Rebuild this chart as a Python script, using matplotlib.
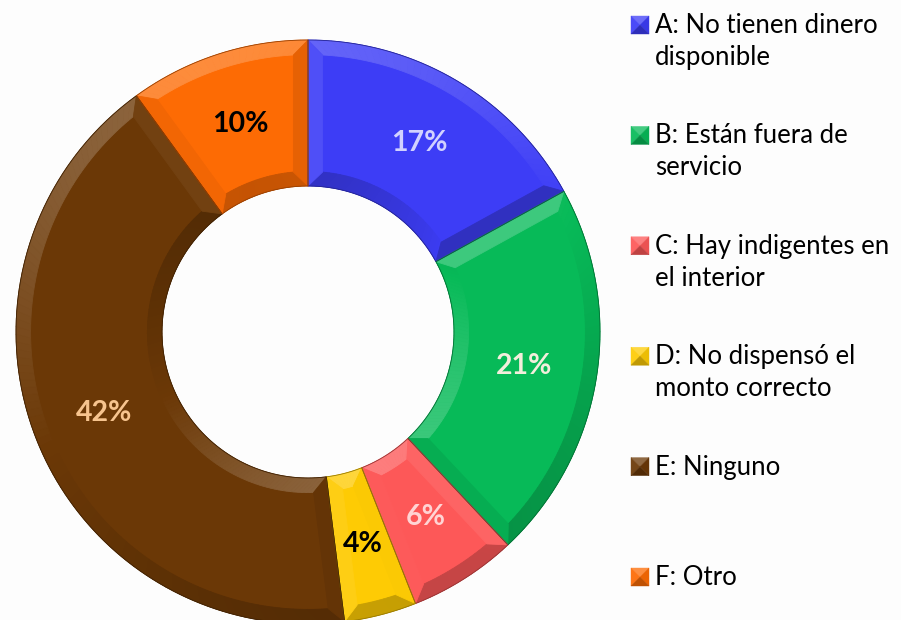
import numpy as np
import matplotlib.pyplot as plt
from matplotlib.patches import Polygon
from matplotlib.colors import to_rgb

plt.rcParams["font.family"] = ["Lato", "DejaVu Sans"]

categories = [
    "A: No tienen dinero\ndisponible",
    "B: Están fuera de\nservicio",
    "C: Hay indigentes en\nel interior",
    "D: No dispensó el\nmonto correcto",
    "E: Ninguno",
    "F: Otro",
]
values = [17, 21, 6, 4, 42, 10]
colors = ["#3d3df6", "#07ba58", "#fd5858", "#fecb04", "#6b3806", "#fd6b04"]
label_colors = ["#d2d2ff", "#f3eedc", "#ffd4d4", "black", "#f7c48e", "black"]

W, H = 901, 620
CX, CY, R = 308, 332, 292
LIGHT = np.array([-0.45, 1.0]) / np.hypot(0.45, 1.0)


def px(x, y):
    # pixel position -> data coordinates of the donut axes
    return (x - CX) / R, (CY - y) / R


def shade(color, s, amount=0.22):
    c = np.array(to_rgb(color))
    if s >= 0:
        return c + (1 - c) * amount * s
    return c * (1 + amount * s)


def pol(r, t):
    t = np.radians(t)
    return np.array([r * np.cos(t), r * np.sin(t)])


def facet(ax, pts, fc):
    ax.add_patch(Polygon(pts, closed=True, lw=0.6, ec=fc, fc=fc, zorder=3))


def bevel(ax, wedge, color, d=0.05, step=1.5):
    t1, t2 = wedge.theta1, wedge.theta2
    r_out = wedge.r
    r_in = wedge.r - wedge.width
    ro, ri = r_out - d, r_in + d
    do = np.degrees(np.arcsin(d / ro))
    di = np.degrees(np.arcsin(d / ri))

    # outer and inner rims, split into small pieces so the light follows the arc
    n = max(2, int((t2 - t1) / step))
    ta = np.linspace(t1, t2, n + 1)
    tb_o = np.linspace(t1 + do, t2 - do, n + 1)
    tb_i = np.linspace(t1 + di, t2 - di, n + 1)
    for k in range(n):
        m = np.radians(0.5 * (ta[k] + ta[k + 1]))
        nrm = np.array([np.cos(m), np.sin(m)])
        facet(ax, [pol(r_out, ta[k]), pol(r_out, ta[k + 1]),
                   pol(ro, tb_o[k + 1]), pol(ro, tb_o[k])],
              shade(color, nrm @ LIGHT))
        facet(ax, [pol(r_in, ta[k]), pol(r_in, ta[k + 1]),
                   pol(ri, tb_i[k + 1]), pol(ri, tb_i[k])],
              shade(color, -nrm @ LIGHT))

    # the two straight sides
    a = np.radians(t1)
    nrm = np.array([np.sin(a), -np.cos(a)])
    facet(ax, [pol(r_out, t1), pol(r_in, t1), pol(ri, t1 + di), pol(ro, t1 + do)],
          shade(color, nrm @ LIGHT))
    a = np.radians(t2)
    nrm = np.array([-np.sin(a), np.cos(a)])
    facet(ax, [pol(r_out, t2), pol(r_in, t2), pol(ri, t2 - di), pol(ro, t2 - do)],
          shade(color, nrm @ LIGHT))

    # thin dark outline
    outline = np.array([pol(r_out, t) for t in np.linspace(t1, t2, 80)] +
                       [pol(r_in, t) for t in np.linspace(t2, t1, 80)])
    ax.add_patch(Polygon(outline, closed=True, fill=False, lw=0.6,
                         ec=shade(color, -1, 0.4), zorder=4))


def legend_box(ax, cx, cy, color, size=18):
    # small pyramid-shaded square
    x0, y0 = px(cx - size / 2, cy + size / 2)
    x1, y1 = px(cx + size / 2, cy - size / 2)
    xm, ym = px(cx, cy)
    faces = [
        ([(x0, y1), (x1, y1), (xm, ym)], 0.7),
        ([(x0, y0), (x0, y1), (xm, ym)], 0.2),
        ([(x1, y0), (x1, y1), (xm, ym)], -0.2),
        ([(x0, y0), (x1, y0), (xm, ym)], -0.7),
    ]
    for pts, s in faces:
        fc = shade(color, s, 0.35)
        ax.add_patch(Polygon(pts, closed=True, lw=0.3, ec=fc, fc=fc, zorder=3))


fig = plt.figure(figsize=(W / 100, H / 100), dpi=100, facecolor="#fdfdfd")
ax = fig.add_axes([0, 0, 1, 1])
ax.set_facecolor("#fdfdfd")

wedges, texts, autotexts = ax.pie(
    values, radius=1.0, startangle=90, counterclock=False, colors=colors,
    autopct="%.0f%%", pctdistance=0.75,
    wedgeprops=dict(width=0.5, linewidth=0),
    textprops=dict(fontsize=20.5, fontweight="bold"),
)
for w, c in zip(wedges, colors):
    bevel(ax, w, c)
for t, c in zip(autotexts, label_colors):
    t.set_color(c)
    t.set_zorder(6)

ax.set_xlim(-CX / R, (W - CX) / R)
ax.set_ylim(-(H - CY) / R, CY / R)
ax.axis("off")

# legend on the right
for i, (lab, c) in enumerate(zip(categories, colors)):
    base = 33 + i * 110.4
    legend_box(ax, 640, base - 8, c)
    for j, line in enumerate(lab.split("\n")):
        x, y = px(655, base + j * 32)
        ax.text(x, y, line, fontsize=18.5, color="black", ha="left", va="baseline")

fig.savefig("out.png", dpi=100, facecolor=fig.get_facecolor())
